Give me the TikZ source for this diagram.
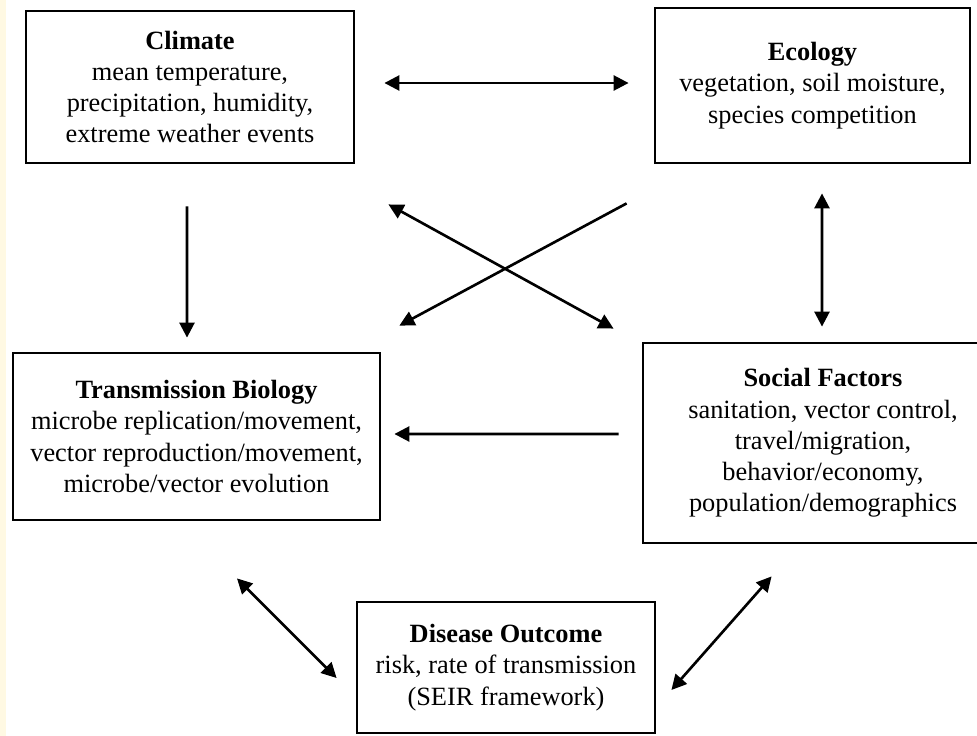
\documentclass[tikz,border=0pt]{standalone}
\usepackage{fontspec}
\setmainfont{Liberation Serif}
\usetikzlibrary{arrows.meta}
\definecolor{strip}{HTML}{FFF9E3}

\begin{document}
\begin{tikzpicture}[
      font=\fontsize{15}{17.8}\selectfont,
      fbox/.style={draw=black, line width=1.6pt, align=center, inner sep=2pt},
      arr/.style={-{Triangle[length=0.3cm,width=0.3cm]}, line width=1.5pt},
      dbl/.style={{Triangle[length=0.3cm,width=0.3cm]}-{Triangle[length=0.3cm,width=0.3cm]}, line width=1.5pt}
    ]
    \useasboundingbox (0,0) rectangle (19.54,-14.72);
    \fill[strip] (0,0) rectangle (0.12,-14.72);

    % factor boxes
    \node[fbox, minimum width=6.56cm, minimum height=3.04cm] (clim) at (3.8,-1.74)
      {\textbf{Climate}\\mean temperature,\\precipitation, humidity,\\extreme weather events};
    \node[fbox, minimum width=6.3cm, minimum height=3.1cm] (eco) at (16.25,-1.71)
      {\textbf{Ecology}\\vegetation, soil moisture,\\species competition};
    \node[fbox, minimum width=7.34cm, minimum height=3.34cm] (trans) at (3.93,-8.73)
      {\textbf{Transmission Biology}\\microbe replication/movement,\\vector reproduction/movement,\\microbe/vector evolution};
    \node[fbox, minimum width=7.2cm, minimum height=4.0cm] (social) at (16.46,-8.86)
      {\textbf{Social Factors}\\sanitation, vector control,\\travel/migration,\\behavior/economy,\\population/demographics};
    % outcome
    \node[fbox, minimum width=5.96cm, minimum height=2.62cm] (dis) at (10.12,-13.35)
      {\textbf{Disease Outcome}\\risk, rate of transmission\\(SEIR framework)};

    % links between factors
    \draw[dbl] ([shift={(0.58,0.08)}]clim.east) -- ([shift={(-0.5,0.05)}]eco.west);
    \draw[arr] ([shift={(-0.06,-0.84)}]clim.south) -- ([shift={(-0.19,0.28)}]trans.north);
    \draw[dbl] ([shift={(0.19,-0.58)}]eco.south) -- ([shift={(-0.02,0.3)}]social.north);
    \draw[arr] ([shift={(-0.54,-0.78)}]eco.south west) -- ([shift={(0.36,0.52)}]trans.north east);
    \draw[dbl] ([shift={(0.66,-0.8)}]clim.south east) -- ([shift={(-0.56,0.26)}]social.north west);
    \draw[arr] ([shift={(-0.46,0.18)}]social.west) -- ([shift={(0.26,0.05)}]trans.east);

    % links to outcome
    \draw[dbl] ([shift={(0.81,-1.14)}]trans.south) -- ([shift={(-0.38,-0.21)}]dis.west);
    \draw[dbl] ([shift={(2.6,-0.64)}]social.south west) -- ([shift={(0.3,-0.45)}]dis.east);
  \end{tikzpicture}
\end{document}
